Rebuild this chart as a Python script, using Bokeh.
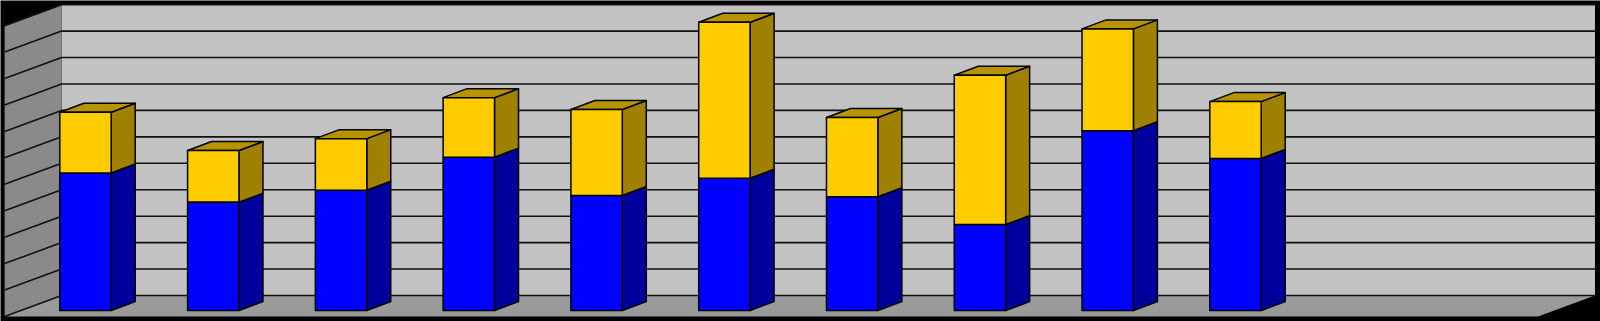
from bokeh.plotting import figure
from bokeh.models import Range1d, ColumnDataSource
from bokeh.embed import file_html
from bokeh.resources import INLINE

# ---- data (gridline step = 10) ----
categories = ["1", "2", "3", "4", "5", "6", "7", "8", "9", "10"]
series_blue = [52.0, 41.0, 45.5, 58.0, 43.5, 50.0, 43.0, 32.5, 68.0, 57.5]
series_yellow = [23.0, 19.5, 19.5, 22.5, 32.5, 59.0, 30.0, 56.5, 38.5, 21.5]
n_slots = 12
y_max = 110
y_step = 10

# ---- layout constants ----
W, H = 1600, 321
SLOT_PX = 127.78          # pixels per category slot
UNIT_PX = 2.644           # pixels per value unit
ORIGIN_X_PX = 21.1        # left of slot 0 in the bar-front plane
ORIGIN_Y_PX = 11.0        # baseline (from bottom) in the bar-front plane
BAR_W = 0.402             # bar width in slots

# oblique depth vectors (data units)
def dvec(px_x, px_y):
    return px_x / SLOT_PX, px_y / UNIT_PX

FLOOR_FRONT = dvec(-17.0, -6.0)
WALL_BACK = dvec(40.0, 15.0)
BAR_DEPTH = dvec(24.0, 9.0)

p = figure(width=W, height=H, output_backend="svg", toolbar_location=None,
           x_axis_type=None, y_axis_type=None,
           x_range=Range1d(-ORIGIN_X_PX / SLOT_PX, (W - ORIGIN_X_PX) / SLOT_PX),
           y_range=Range1d(-ORIGIN_Y_PX / UNIT_PX, (H - ORIGIN_Y_PX) / UNIT_PX),
           min_border=0, min_border_left=0, min_border_right=0,
           min_border_top=0, min_border_bottom=0)
p.grid.visible = False
p.outline_line_color = None
p.background_fill_color = "black"
p.border_fill_color = "black"

fx, fy = FLOOR_FRONT
bx, by = WALL_BACK

# back wall
p.patch([bx, bx + n_slots, bx + n_slots, bx], [by, by, by + y_max, by + y_max],
        fill_color="#c2c2c2", line_color=None)
# side wall
p.patch([fx, bx, bx, fx], [fy, by, by + y_max, fy + y_max],
        fill_color="#8a8a8a", line_color=None)
# floor
p.patch([fx, fx + n_slots, bx + n_slots, bx], [fy, fy, by, by],
        fill_color="#9a9a9a", line_color=None)

# gridlines on back wall and side wall
gx, gy = [], []
for v in range(0, y_max + 1, y_step):
    gx.append([fx, bx, bx + n_slots])
    gy.append([fy + v, by + v, by + v])
p.multi_line(gx, gy, line_color="#111111", line_width=1.6)

# bars
dx, dy = BAR_DEPTH
front = dict(xs=[], ys=[], c=[])
side = dict(xs=[], ys=[], c=[])
top = dict(xs=[], ys=[], c=[])
series = [(series_blue, "#0000ff", "#00009c"), (series_yellow, "#ffcc00", "#a08000")]
for i in range(len(categories)):
    xl = i + (1 - BAR_W) / 2
    xr = xl + BAR_W
    base = 0.0
    for k, (vals, cf, cs) in enumerate(series):
        t = base + vals[i]
        front["xs"].append([xl, xr, xr, xl]); front["ys"].append([base, base, t, t]); front["c"].append(cf)
        side["xs"].append([xr, xr + dx, xr + dx, xr]); side["ys"].append([base, base + dy, t + dy, t]); side["c"].append(cs)
        if k == len(series) - 1:
            top["xs"].append([xl, xr, xr + dx, xl + dx]); top["ys"].append([t, t, t + dy, t + dy]); top["c"].append("#b89300")
        base = t

for d in (side, top, front):
    p.patches("xs", "ys", source=ColumnDataSource(d), fill_color="c",
              line_color="black", line_width=1.5, line_join="round")

open("out.html", "w").write(file_html(p, INLINE))
